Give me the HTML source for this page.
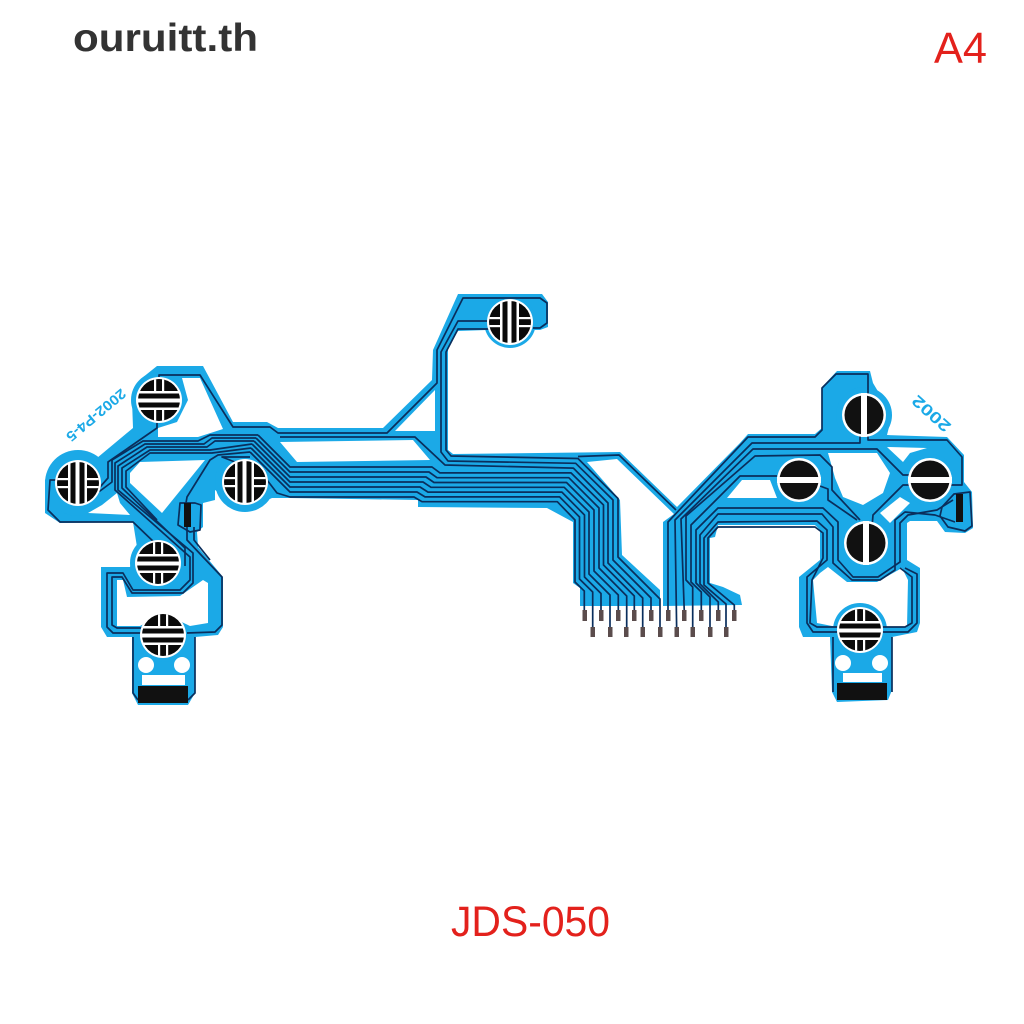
<!DOCTYPE html>
<html><head><meta charset="utf-8"><style>
html,body{margin:0;padding:0;background:#fff}
svg{display:block}
</style></head><body>
<svg xmlns="http://www.w3.org/2000/svg" width="1024" height="1024" viewBox="0 0 1024 1024">
<defs>
<clipPath id="cd"><circle r="21"/></clipPath>
<g id="cH">
<circle r="23" fill="#fff"/>
<g clip-path="url(#cd)">
<rect x="-21" y="-21" width="42" height="12" fill="#0a0a0a"/>
<rect x="-21" y="10" width="42" height="11" fill="#0a0a0a"/>
<rect x="-21" y="-6.5" width="42" height="5" fill="#0a0a0a"/>
<rect x="-21" y="2.5" width="42" height="5" fill="#0a0a0a"/>
<rect x="-5" y="-21" width="2.2" height="13" fill="#fff"/>
<rect x="3" y="-21" width="2.2" height="13" fill="#fff"/>
<rect x="-5" y="10" width="2.2" height="11" fill="#fff"/>
<rect x="3" y="10" width="2.2" height="11" fill="#fff"/>
</g>
</g>
<g id="cB">
<circle r="22" fill="#fff"/>
<circle r="19.5" fill="#111"/>
<rect x="-22" y="-3" width="44" height="6" fill="#fff"/>
</g>
</defs>

<rect width="1024" height="1024" fill="#fff"/>

<text x="73" y="51" font-family="'Liberation Sans',sans-serif" font-size="39" font-weight="700" fill="#333" textLength="185" lengthAdjust="spacingAndGlyphs">ouruitt.th</text>
<text x="934" y="63" font-family="'Liberation Sans',sans-serif" font-size="44" fill="#e3211c" textLength="53" lengthAdjust="spacingAndGlyphs">A4</text>
<text x="451" y="936" font-family="'Liberation Sans',sans-serif" font-size="43" fill="#e3211c" textLength="159" lengthAdjust="spacingAndGlyphs">JDS-050</text>

<!-- flex body -->
<g fill="#1ba9e7">
<path d="M458 294L542 294L548 302L548 327L540 330L487 330L458 331L448 348L448 450L453 454L620 452L677 507L740 443L748 434L815 434L822 428L822 387L837 371L870 371L873 383L892 415L887 435L947 437L964 455L964 482L972 492L973 528L965 533L945 532L937 521L910 521L907 523L907 560L920 568L920 623L917 632L892 637L892 690L888 700L837 702L832 692L830 637L803 637L799 627L799 577L820 560L820 530L815 525L718 525L715 537L710 538L710 583L723 587L740 595L742 605L663 606L663 522L674 514L617 459L587 462L620 500L622 555L660 590L660 606L580 606L580 588L573 583L573 522L547 508L418 507L418 500L290 498L272 498L245 510L215 490L215 500L203 503L203 527L197 532L198 547L223 577L223 627L218 635L195 637L195 693L188 705L138 705L132 693L132 637L107 637L101 627L101 567L130 567L137 547L133 522L60 523L45 513L45 480L63 457L97 458L133 428L132 400L142 378L157 366L203 366L233 422L267 422L278 428L383 428L432 380L433 350Z"/>
<circle cx="510" cy="322" r="26"/>
<circle cx="159" cy="400" r="28"/>
<circle cx="78" cy="483" r="33"/>
<circle cx="158" cy="563" r="28"/>
<circle cx="245" cy="482" r="30"/>
<circle cx="163" cy="635" r="27"/>
<circle cx="864" cy="415" r="28"/>
</g>

<!-- holes -->
<g fill="#fff">
<path d="M158 437L198 437L223 429L200 378L182 378L188 400L177 422L158 428Z"/>
<path d="M130 473L140 462L205 460L162 513L130 483Z"/>
<path d="M88 513L102 505L117 493L120 503L130 515Z"/>
<path d="M280 442L413 440L430 460L297 462Z"/>
<path d="M395 431L435 390L435 431Z"/>
<path d="M117 580L123 580L127 597L180 596L203 580L208 583L208 623L190 626L163 613L140 626L117 626Z"/>
<path d="M828 453L877 453L890 473L883 493L863 505L843 497L835 478L832 467Z"/>
<path d="M887 447L927 448L910 453L903 462Z"/>
<path d="M727 498L742 480L770 480L777 498Z"/>
<path d="M880 513L900 497L910 503L890 523Z"/>
<path d="M820 573L828 567L847 582L877 582L902 568L908 580L907 627L883 627L860 610L837 627L817 623L813 580Z"/>
</g>
<circle cx="864" cy="543" r="27" fill="#1ba9e7"/>
<circle cx="799" cy="480" r="26" fill="#1ba9e7"/>
<circle cx="930" cy="480" r="26" fill="#1ba9e7"/>
<circle cx="860" cy="630" r="27" fill="#1ba9e7"/>

<!-- traces -->
<g fill="none" stroke="#0a2e5c" stroke-width="1.7" stroke-linejoin="round">
<!-- centre bundle -->
<path d="M490 329L458 329L446 352L446 450L451 456L578 458.5L618 498.5L618 557L660 599L660 632"/>
<path d="M490 321L458 321L441 352L441 452L448 461L575.7 463.3L613 500L613 560L651 598L651 612"/>
<path d="M280 437L415 437L445 465L573.4 468.1L608 503L608 563L642.7 598L642.7 630"/>
<path d="M258 435L290 467L432 467L440 472.9L571 472.9L603.5 505L603.5 565L634.3 596L634.3 612"/>
<path d="M256 438L290 472L429 472L437 477.7L568.8 477.7L599 508L599 568L626.7 596L626.7 630"/>
<path d="M254 441L290 477L426 477L434 482.5L566.5 482.5L594 510L594 571L618.3 595L618.3 612"/>
<path d="M252 444L290 482L423 482L431 487.3L564.2 487.3L589 512L589 574L610 595L610 630"/>
<path d="M251 448L290 487L420 487L428 492.1L561.9 492.1L584.5 515L584.5 577L601 593.5L601 612"/>
<path d="M250 452L290 492L417 492L425 496.9L559.6 496.9L579.5 517L579.5 579L592.7 592L592.7 630"/>
<path d="M267 480L277 493L290 497L414 497L422 501.7L557.3 501.7L575 520L575 582L584.3 591L584.3 612"/>
<!-- strip trace -->
<path d="M578 456.5L619 455L676 510"/>
<!-- top contact -->
<path d="M533 328L540 328L547 323L547 303L540 298L463 298L437 350L437 383L387 433L290 433L278 433L270 427L233 427L200 375L159 375L159 384"/>
<!-- left bundle -->
<path d="M157 423L157 428L108 462L108 478L100 487L85 487"/>
<path d="M258 435L210 435L198 441L143 441L112 460L112 482L100 491L90 491"/>
<path d="M256 438L212 438L204 444L145 444L115 463L115 490L190 557L190 580L180 590L133 590L123 573L107 573L107 627L113 633L142 633"/>
<path d="M254 441L215 441L207 447L147 447L118 466L118 490L193 553L193 583L183 593L132 593L122 577L112 577L112 625L117 628L142 628"/>
<path d="M252 444L210 450L150 450L122 468L122 488L185 548L185 566"/>
<path d="M251 448L212 453L150 453L126 471L126 487L157 520"/>
<path d="M250 452L218 455L210 460L187 497L186 503"/>
<path d="M250 457L222 457L240 464"/>
<path d="M75 480L50 480L48 510L60 522L133 522L157 545L157 555"/>
<path d="M187 527L187 540L203 557L222 577L222 625L215 632L187 633"/>
<path d="M194 527L194 540L210 560"/>
<path d="M180 503L178 525L190 532L200 530L201 505L195 503Z"/>
<path d="M133 637L133 693L138 700M195 637L195 693L188 700"/>
<!-- right fan -->
<path d="M668 612L668 522L748 437L815 437L822 430L822 388L836 374L868 374L868 395"/>
<path d="M676.7 632L675 520L752 443L860 443L860 436"/>
<path d="M684.3 612L681 519L753 449L877 449L903 475L947 475"/>
<path d="M692.7 632L692.7 587L686 580L686 516L755 456L820 455L832 467L832 490L860 520"/>
<path d="M701.3 612L701.3 592L691 582L691 525L740 476L777 476"/>
<path d="M710 632L710 597L696 583L696 530L718 508L823 508L838 522L838 560L853 577L878 577L900 562L900 523L908 515L937 510L953 500"/>
<path d="M718.3 612L718.3 602L700 584L700 535L718 514L822 514L833 527L833 563L852 580L880 580L895 570L895 520L905 512L935 515L955 522"/>
<path d="M726 632L726 604L704 585L704 538L718 522L817 521L827 530L827 560L807 577L807 623L813 632L837 632"/>
<path d="M734.3 612L734.3 605L708 583L708 538L718 527L815 527L823 533L823 558L812 580L810 623L817 627L837 627"/>
<path d="M868 436L868 440L947 440L962 457L962 485L903 485L873 515L872 527"/>
<path d="M820 486L828 489L828 500L857 520"/>
<path d="M905 568L917 574L917 623L908 632L883 632"/>
<path d="M900 568L912 577L912 623L905 627L883 627"/>
<path d="M833 637L833 692M892 637L892 692"/>
<path d="M954 494L970 492L972 526L965 531L948 527L940 516L942 507Z"/>
</g>

<!-- contacts -->
<use href="#cH" transform="translate(159 400)"/>
<use href="#cH" transform="translate(78 483) rotate(90)"/>
<use href="#cH" transform="translate(158 563)"/>
<use href="#cH" transform="translate(245 482) rotate(90)"/>
<use href="#cH" transform="translate(163 635)"/>
<use href="#cH" transform="translate(510 322) rotate(90)"/>
<use href="#cH" transform="translate(860 630)"/>
<use href="#cB" transform="translate(864 415) rotate(90)"/>
<use href="#cB" transform="translate(866 543) rotate(90)"/>
<use href="#cB" transform="translate(799 480)"/>
<use href="#cB" transform="translate(930 480)"/>

<!-- pads -->
<g fill="#fff">
<circle cx="146" cy="665" r="8"/><circle cx="182" cy="665" r="8"/>
<rect x="142" y="675" width="43" height="10"/>
<circle cx="843" cy="663" r="8"/><circle cx="880" cy="663" r="8"/>
<rect x="843" y="673" width="39" height="9"/>
</g>
<g fill="#111">
<rect x="138" y="686" width="50" height="17"/>
<rect x="837" y="683" width="50" height="17"/>
<rect x="184" y="503" width="7" height="24"/>
<rect x="956" y="494" width="7" height="28"/>
</g>

<!-- pins -->
<g fill="#5b4c4c">
<rect x="582.5" y="610" width="4.5" height="11"/><rect x="599" y="610" width="4.5" height="11"/><rect x="616" y="610" width="4.5" height="11"/><rect x="632" y="610" width="4.5" height="11"/><rect x="649" y="610" width="4.5" height="11"/><rect x="666" y="610" width="4.5" height="11"/><rect x="682" y="610" width="4.5" height="11"/><rect x="699" y="610" width="4.5" height="11"/><rect x="716" y="610" width="4.5" height="11"/><rect x="732" y="610" width="4.5" height="11"/>
<rect x="590.5" y="627" width="4.5" height="10"/><rect x="608" y="627" width="4.5" height="10"/><rect x="624" y="627" width="4.5" height="10"/><rect x="640.5" y="627" width="4.5" height="10"/><rect x="658" y="627" width="4.5" height="10"/><rect x="674.5" y="627" width="4.5" height="10"/><rect x="690.5" y="627" width="4.5" height="10"/><rect x="708" y="627" width="4.5" height="10"/><rect x="724" y="627" width="4.5" height="10"/>
</g>

<!-- printed codes -->
<text transform="translate(121 388) rotate(140)" font-family="'Liberation Sans',sans-serif" font-size="14" font-weight="700" fill="#1ba9e7" textLength="73" lengthAdjust="spacingAndGlyphs">2002-P4-5</text>
<text transform="translate(952 425) rotate(222)" font-family="'Liberation Sans',sans-serif" font-size="16" font-weight="700" fill="#1ba9e7" textLength="46" lengthAdjust="spacingAndGlyphs">2002</text>
</svg>
</body></html>
